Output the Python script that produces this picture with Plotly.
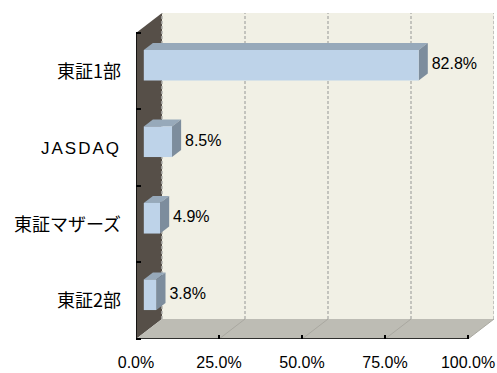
import plotly.graph_objects as go

# ---- data (bottom to top) ----
categories = ["東証2部", "東証マザーズ", "JASDAQ", "東証1部"]
values = [3.8, 4.9, 8.5, 82.8]
x_ticks = [0, 25, 50, 75, 100]
x_tick_labels = ["0.0%", "25.0%", "50.0%", "75.0%", "100.0%"]
value_labels = [f"{v:.1f}%" for v in values]

# ---- 3D geometry (in axis units) ----
DX = 7.83      # depth of the chart box along x
DY = 0.261     # depth of the chart box along y
F1, F2 = 0.30, 0.65   # bar front / back depth fractions
FL = 0.80      # label depth fraction
H = 0.2        # half bar thickness
XMAX = x_ticks[-1]
Y0, Y1 = -0.5, len(categories) - 0.5

fig = go.Figure()

def poly(xs, ys, color, lw=0, lc=None):
    fig.add_trace(go.Scatter(x=xs, y=ys, mode="lines", fill="toself",
                             fillcolor=color, line=dict(width=lw, color=lc or color),
                             hoverinfo="skip", showlegend=False))

# left wall
poly([0, DX, DX, 0], [Y0, Y0 + DY, Y1 + DY, Y1], "#564f48")
# back wall
poly([DX, XMAX + DX, XMAX + DX, DX], [Y0 + DY, Y0 + DY, Y1 + DY, Y1 + DY], "#f1f0e5")
# floor
poly([0, XMAX, XMAX + DX, DX], [Y0, Y0, Y0 + DY, Y0 + DY], "#bdbcb4")

# back wall gridlines
gx, gy = [], []
for t in x_ticks:
    gx += [t + DX, t + DX, None]
    gy += [Y0 + DY, Y1 + DY, None]
fig.add_trace(go.Scatter(x=gx, y=gy, mode="lines",
                         line=dict(color="#b4b4b0", width=1.5, dash="3px,2px"),
                         hoverinfo="skip", showlegend=False))
# floor gridlines
fx, fy = [], []
for t in x_ticks[1:]:
    fx += [t, t + DX, None]
    fy += [Y0, Y0 + DY, None]
fig.add_trace(go.Scatter(x=fx, y=fy, mode="lines",
                         line=dict(color="#a9a8a0", width=1),
                         hoverinfo="skip", showlegend=False))

# axis lines
fig.add_trace(go.Scatter(x=[0, 0, None, 0, XMAX], y=[Y1, Y0, None, Y0, Y0], mode="lines",
                         line=dict(color="black", width=1.5),
                         hoverinfo="skip", showlegend=False))

# bars
for i, v in enumerate(values):
    c = i
    a1x, a1y = F1 * DX, F1 * DY
    a2x, a2y = F2 * DX, F2 * DY
    # top face
    poly([a1x, v + a1x, v + a2x, a2x], [c + H + a1y, c + H + a1y, c + H + a2y, c + H + a2y], "#97a9ba")
    # side face
    poly([v + a1x, v + a2x, v + a2x, v + a1x], [c - H + a1y, c - H + a2y, c + H + a2y, c + H + a1y], "#7d8d9d")
    # front face
    poly([a1x, v + a1x, v + a1x, a1x], [c - H + a1y, c - H + a1y, c + H + a1y, c + H + a1y], "#bed3e9")

# value labels
fig.add_trace(go.Scatter(x=[v + FL * DX for v in values], y=[i + F1 * DY for i in range(len(values))],
                         mode="text", text=value_labels, textposition="middle right",
                         textfont=dict(family="Liberation Sans, Arial", size=16, color="black"),
                         hoverinfo="skip", showlegend=False))

ytext = [c if c != "JASDAQ" else
         '<span style="font-family:Liberation Sans;font-size:17px;letter-spacing:2px">JASDAQ</span>'
         for c in categories]

fig.update_layout(
    width=497, height=373,
    margin=dict(l=136, r=3, t=13, b=34),
    paper_bgcolor="white", plot_bgcolor="white",
    showlegend=False,
    xaxis=dict(range=[0, XMAX + DX], tickvals=x_ticks, ticktext=x_tick_labels,
               ticks="inside", ticklen=4, tickwidth=1.5, tickcolor="black",
               showgrid=False, zeroline=False, showline=False, fixedrange=True,
               automargin=False, ticklabelstandoff=12,
               tickfont=dict(family="Liberation Sans, Arial", size=16, color="black")),
    yaxis=dict(range=[Y0, Y1 + DY], tickvals=list(range(len(categories))), ticktext=ytext,
               ticks="", showgrid=False, zeroline=False, showline=False, fixedrange=True,
               automargin=False, ticklabelstandoff=14,
               minor=dict(tickmode="array", tickvals=[k - 0.5 for k in range(len(categories) + 1)],
                          ticks="inside", ticklen=5, tickwidth=1.5, tickcolor="black", showgrid=False),
               tickfont=dict(family="Noto Sans CJK JP", size=18, color="black")),
)

fig.write_html("out.html")
